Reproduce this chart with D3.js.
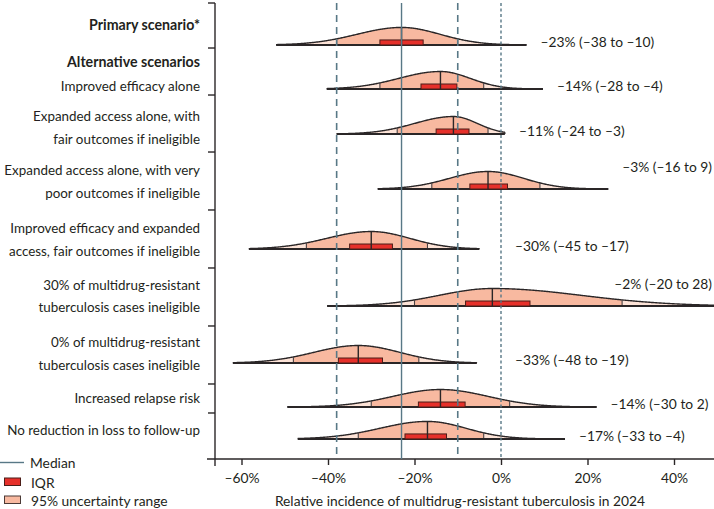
<!DOCTYPE html>
<html><head><meta charset="utf-8">
<script src="https://cdn.jsdelivr.net/npm/d3@7"></script>
<style>
body{margin:0;background:#fff}
svg{display:block}
text{font-family:Lato,"Open Sans",sans-serif;fill:#231f20}
</style>
</head><body>
<svg id="c" width="714" height="509"></svg>
<script>
// ---------------- DATA ----------------
const scenarioLabels = [
  ["Primary scenario*"],
  ["Improved efficacy alone"],
  ["Expanded access alone, with", "fair outcomes if ineligible"],
  ["Expanded access alone, with very", "poor outcomes if ineligible"],
  ["Improved efficacy and expanded", "access, fair outcomes if ineligible"],
  ["30% of multidrug-resistant", "tuberculosis cases ineligible"],
  ["0% of multidrug-resistant", "tuberculosis cases ineligible"],
  ["Increased relapse risk"],
  ["No reduction in loss to follow-up"]
];
const groupHeader = "Alternative scenarios";
const medians = [-23, -14, -11, -3, -30, -2, -33, -14, -17];
const lo95    = [-38, -28, -24, -16, -45, -20, -48, -30, -33];
const hi95    = [-10,  -4,  -3,   9, -17,  28, -19,   2,  -4];
const iqrLo   = [-28, -18.5, -15, -7.2, -35, -8.2, -37.6, -19.1, -22.2];
const iqrHi   = [-18, -10.2, -7.4, 1.5, -25.1, 6.7, -27.4, -8.3, -12.6];
const tailLo  = [-52, -40.3, -38, -28.5, -58.3, -40.2, -62, -49.4, -47];
const tailHi  = [5.9, 9.7, 0.9, 24.8, -5, 60, -5.6, 22.1, 14.8];
const xTicks  = [-60, -40, -20, 0, 20, 40];
const xTitle  = "Relative incidence of multidrug-resistant tuberculosis in 2024";
const legendItems = ["Median", "IQR", "95% uncertainty range"];

// ---------------- LAYOUT ----------------
const W = 714, H = 509;
const FS = 13.8, FSL = 13.4;
const svg = d3.select("#c");
const axisX = 215, axisY = 459, topY = 3;
const x = d3.scaleLinear().domain([-60, 40]).range([241.5, 674]);
const xMax = x.invert(W);
const y = d3.scaleLinear().domain([0, 100]).range([topY, axisY]);
const baseU = [9.2, 18.86, 28.73, 40.79, 53.95, 66.45, 78.95, 88.6, 95.6];
const bandEdgesU = [0, 9.87, 20.18, 32.68, 45.39, 58.11, 70.83, 83.55, 89.91];
const labelU = [[4.61], [18.2], [24.78, 29.82], [36.62, 41.67], [49.34, 54.39], [61.84, 66.67], [74.34, 79.39], [86.62], [93.64]];
const headerU = 12.72;
const peakH = 17.5;

const refColor = "#587886";
const ink = "#2a2627";
const salmon = "#f8b9a0";
const tailFill = "#fde3d7";
const iqrFill = "#e6302a";

const fmt = v => (v < 0 ? "\u2013" + Math.abs(v) : "" + v);

// ---------------- AXES ----------------
svg.append("line").attr("x1", axisX).attr("x2", axisX).attr("y1", topY).attr("y2", axisY + 7)
  .attr("stroke", ink).attr("stroke-width", 1.4);
svg.selectAll(".bt").data(bandEdgesU).enter().append("line")
  .attr("x1", axisX - 7).attr("x2", axisX).attr("y1", d => y(d)).attr("y2", d => y(d))
  .attr("stroke", ink).attr("stroke-width", 1.4);

const xa = svg.append("g").attr("transform", `translate(0,${axisY})`)
  .call(d3.axisBottom(x).tickValues(xTicks).tickSize(6).tickFormat(d => fmt(d) + "%"));
xa.select(".domain").remove();
xa.selectAll(".tick line").attr("stroke", ink).attr("stroke-width", 1.4);
xa.selectAll(".tick text").attr("font-size", FS).attr("y", 18).attr("dy", null)
  .attr("dominant-baseline", "central")
  .style("font-family", "Lato").attr("fill", ink);
svg.append("line").attr("x1", axisX - 8).attr("x2", W).attr("y1", axisY).attr("y2", axisY)
  .attr("stroke", ink).attr("stroke-width", 1.4);
svg.append("text").attr("x", 460).attr("y", 500).attr("text-anchor", "middle")
  .attr("dominant-baseline", "central").attr("font-size", FS).text(xTitle);

// ---------------- LEFT LABELS ----------------
scenarioLabels.forEach((lines, i) => {
  lines.forEach((ln, j) => {
    const t = svg.append("text").attr("x", 200).attr("y", y(labelU[i][j]))
      .attr("text-anchor", "end").attr("dominant-baseline", "central")
      .attr("font-size", i === 0 ? 14.2 : FSL).attr("font-weight", i === 0 ? "bold" : "normal").text(ln);
    const w = t.node().getComputedTextLength();
    if (w > 199) t.attr("textLength", 199).attr("lengthAdjust", "spacingAndGlyphs");
  });
});
svg.append("text").attr("x", 200).attr("y", y(headerU)).attr("text-anchor", "end")
  .attr("dominant-baseline", "central").attr("font-size", 14.2).attr("font-weight", "bold").text(groupHeader);

// ---------------- DISTRIBUTIONS ----------------
const K = 1.35;
function dens(i, v) {
  const m = medians[i];
  const s = v < m ? (m - lo95[i]) / 1.96 : (hi95[i] - m) / 1.96;
  const z = (v - m) / s / K;
  return peakH * Math.exp(-0.5 * z * z);
}
const plot = svg.append("g");
medians.forEach((m, i) => {
  const b = y(baseU[i]);
  const a = tailLo[i], e = Math.min(tailHi[i], xMax);
  const pts = d3.range(a, e, 0.2).concat([e]);
  const area = d3.area().x(v => x(v)).y0(b).y1(v => b - dens(i, v));
  const g = plot.append("g");
  g.append("path").attr("d", area(pts)).attr("fill", tailFill);
  const mid = pts.filter(v => v > lo95[i] && v < hi95[i]);
  mid.unshift(lo95[i]); mid.push(hi95[i]);
  g.append("path").attr("d", area(mid)).attr("fill", salmon);
  g.append("path").attr("d", d3.line().x(v => x(v)).y(v => b - dens(i, v))(pts))
    .attr("fill", "none").attr("stroke", ink).attr("stroke-width", 1.4);
  if (tailHi[i] < xMax) {
    g.append("line").attr("x1", x(e)).attr("x2", x(e)).attr("y1", b).attr("y2", b - dens(i, e))
      .attr("stroke", ink).attr("stroke-width", 1.2);
  }
  [lo95[i], hi95[i]].forEach(v => {
    g.append("line").attr("x1", x(v)).attr("x2", x(v)).attr("y1", b).attr("y2", b - dens(i, v))
      .attr("stroke", "#4a4244").attr("stroke-width", 1.1);
  });
  g.append("line").attr("x1", x(a)).attr("x2", x(e)).attr("y1", b).attr("y2", b)
    .attr("stroke", ink).attr("stroke-width", 2);
  g.append("rect").attr("x", x(iqrLo[i])).attr("y", b - 5).attr("width", x(iqrHi[i]) - x(iqrLo[i]))
    .attr("height", 5).attr("fill", iqrFill).attr("stroke", "#4b1d18").attr("stroke-width", 1);
  g.append("line").attr("x1", x(m)).attr("x2", x(m)).attr("y1", b).attr("y2", b - dens(i, m))
    .attr("stroke", ink).attr("stroke-width", 1.4);
});

// ---------------- REFERENCE LINES ----------------
const refs = [
  {v: medians[0], dash: null, w: 1.4},
  {v: lo95[0], dash: "7,5", w: 1.6},
  {v: hi95[0], dash: "7,5", w: 1.6},
  {v: 0, dash: "3,2.5", w: 1.4}
];
svg.selectAll(".ref").data(refs).enter().append("line")
  .attr("x1", d => x(d.v)).attr("x2", d => x(d.v)).attr("y1", topY).attr("y2", axisY)
  .attr("stroke", refColor).attr("stroke-width", d => d.w)
  .attr("stroke-dasharray", d => d.dash);

// ---------------- VALUE LABELS ----------------
medians.forEach((m, i) => {
  const b = y(baseU[i]);
  const txt = `${fmt(m)}% (${fmt(lo95[i])} to ${fmt(hi95[i])})`;
  const lx = Math.max(x(Math.min(tailHi[i], xMax)), x(0)) + 14;
  const t = svg.append("text").attr("x", lx).attr("y", b - 3.5)
    .attr("dominant-baseline", "central").attr("font-size", FS).text(txt);
  const w = t.node().getComputedTextLength();
  if (lx + w > W - 2) {
    t.attr("x", W - 2).attr("text-anchor", "end").attr("y", b - 23);
  }
});

// ---------------- LEGEND ----------------
svg.append("line").attr("x1", 0).attr("x2", 24).attr("y1", 462.5).attr("y2", 462.5)
  .attr("stroke", refColor).attr("stroke-width", 1.4);
svg.append("rect").attr("x", 4.5).attr("y", 478).attr("width", 16).attr("height", 7.5)
  .attr("fill", iqrFill).attr("stroke", "#4b1d18").attr("stroke-width", 1);
svg.append("rect").attr("x", 4.5).attr("y", 496).attr("width", 16).attr("height", 7.5)
  .attr("fill", salmon).attr("stroke", "#4b3a36").attr("stroke-width", 1);
[462.5, 482, 500].forEach((yy, k) => {
  svg.append("text").attr("x", k === 0 ? 30 : 31).attr("y", yy).attr("dominant-baseline", "central")
    .attr("font-size", FS).text(legendItems[k]);
});
</script>
</body></html>
